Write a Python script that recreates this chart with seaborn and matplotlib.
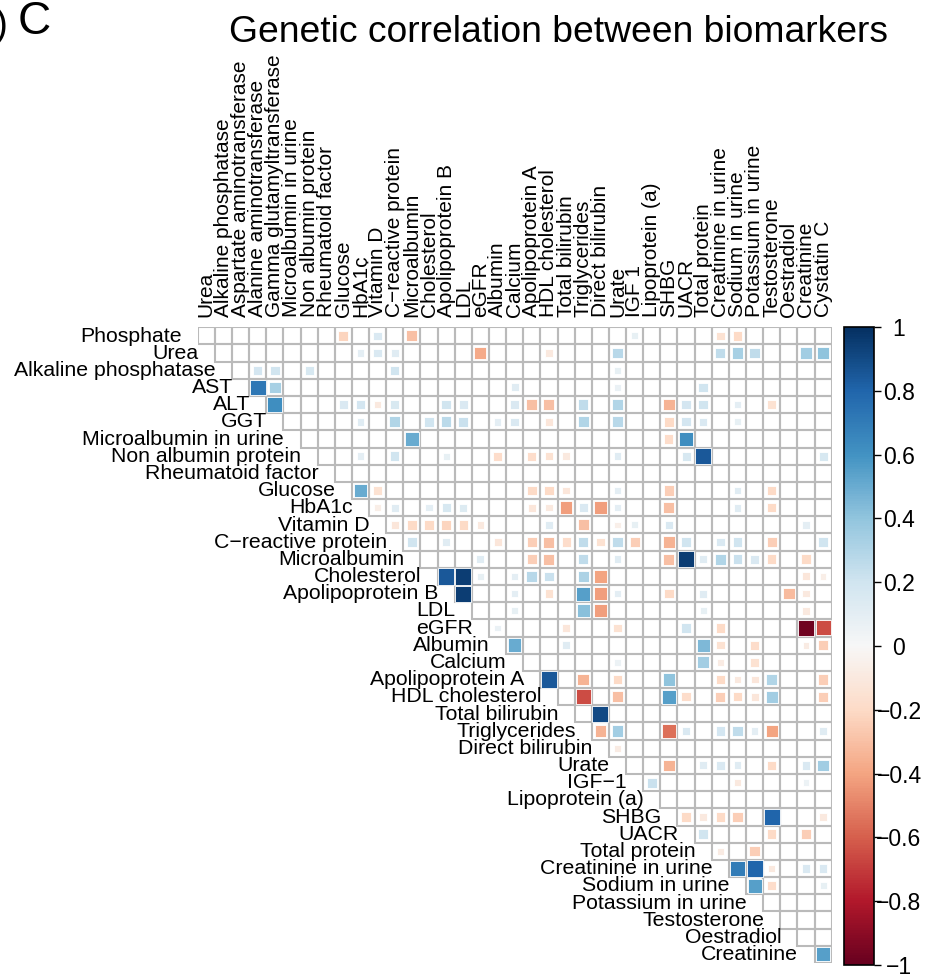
import numpy as np
import pandas as pd
import seaborn as sns
import matplotlib
matplotlib.use("Agg")
import matplotlib.pyplot as plt
from matplotlib.patches import Rectangle
from matplotlib.colors import Normalize, ListedColormap
from matplotlib.cm import ScalarMappable

sns.set_style("white")
plt.rcParams["font.family"] = ["Liberation Sans", "DejaVu Sans"]
plt.rcParams["text.color"] = "black"
plt.rcParams["ytick.color"] = "black"
plt.rcParams["ytick.labelcolor"] = "black"

row_labels = ["Phosphate", "Urea", "Alkaline phosphatase", "AST", "ALT", "GGT",
              "Microalbumin in urine", "Non albumin protein", "Rheumatoid factor",
              "Glucose", "HbA1c", "Vitamin D", "C\u2212reactive protein", "Microalbumin",
              "Cholesterol", "Apolipoprotein B", "LDL", "eGFR", "Albumin", "Calcium",
              "Apolipoprotein A", "HDL cholesterol", "Total bilirubin", "Triglycerides",
              "Direct bilirubin", "Urate", "IGF\u22121", "Lipoprotein (a)", "SHBG", "UACR",
              "Total protein", "Creatinine in urine", "Sodium in urine",
              "Potassium in urine", "Testosterone", "Oestradiol", "Creatinine"]

col_labels = ["Urea", "Alkaline phosphatase", "Aspartate aminotransferase",
              "Alanine aminotransferase", "Gamma glutamyltransferase",
              "Microalbumin in urine", "Non albumin protein", "Rheumatoid factor",
              "Glucose", "HbA1c", "Vitamin D", "C\u2212reactive protein", "Microalbumin",
              "Cholesterol", "Apolipoprotein B", "LDL", "eGFR", "Albumin", "Calcium",
              "Apolipoprotein A", "HDL cholesterol", "Total bilirubin", "Triglycerides",
              "Direct bilirubin", "Urate", "IGF 1", "Lipoprotein (a)", "SHBG", "UACR",
              "Total protein", "Creatinine in urine", "Sodium in urine",
              "Potassium in urine", "Testosterone", "Oestradiol", "Creatinine", "Cystatin C"]

# significant genetic correlations per row: (column index, rg)
r_phosphate = [(8, -0.22), (10, 0.15), (12, -0.30), (25, 0.08), (30, -0.15), (31, -0.20)]
r_urea = [(9, 0.10), (10, 0.15), (11, 0.12), (16, -0.38), (20, -0.10), (24, 0.28),
          (30, 0.25), (31, 0.33), (32, 0.25), (35, 0.35), (36, 0.40)]
r_alp = [(3, 0.18), (4, 0.20), (6, 0.17), (11, 0.20), (24, 0.08)]
r_ast = [(3, 0.72), (4, 0.33), (18, 0.12), (24, 0.07), (29, 0.20)]
r_alt = [(4, 0.62), (8, 0.15), (9, 0.18), (10, -0.10), (11, 0.16), (14, 0.20), (15, 0.15),
         (18, 0.15), (19, -0.30), (20, -0.30), (22, 0.25), (24, 0.30), (27, -0.35),
         (28, 0.18), (29, 0.20), (31, 0.10), (33, -0.15)]
r_ggt = [(9, 0.12), (11, 0.30), (13, 0.20), (14, 0.27), (15, 0.22), (17, 0.10), (18, 0.15),
         (20, -0.12), (22, 0.30), (24, 0.28), (27, -0.20), (28, 0.18), (29, 0.15), (31, 0.08)]
r_malb_urine = [(12, 0.50), (27, -0.18), (28, 0.62)]
r_nonalb = [(9, 0.10), (11, 0.20), (14, 0.08), (17, -0.18), (19, -0.18), (20, -0.15),
            (21, -0.10), (24, 0.12), (28, 0.17), (29, 0.85), (36, 0.17)]
r_rf = []
r_glucose = [(9, 0.50), (10, -0.15), (19, -0.20), (20, -0.20), (21, -0.12), (24, 0.10),
             (27, -0.25), (31, 0.12), (33, -0.20)]
r_hba1c = [(10, -0.07), (11, 0.12), (13, 0.10), (14, 0.17), (15, 0.14), (19, -0.12),
           (20, -0.10), (21, -0.42), (22, 0.15), (23, -0.42), (24, 0.10), (27, -0.30),
           (31, 0.12), (33, -0.20)]
r_vitd = [(11, -0.12), (12, -0.20), (13, -0.20), (14, -0.22), (15, -0.20), (16, -0.10),
          (20, 0.12), (22, -0.30), (24, -0.06), (25, 0.08), (27, 0.15), (35, 0.10)]
r_crp = [(12, 0.20), (14, 0.12), (17, -0.12), (19, -0.25), (20, -0.30), (21, -0.18),
         (22, 0.25), (23, -0.15), (24, 0.25), (25, -0.25), (27, -0.35), (28, 0.20),
         (30, 0.15), (31, 0.20), (33, -0.25), (36, 0.20)]
r_malb = [(16, 0.12), (19, -0.25), (20, -0.30), (22, 0.25), (24, 0.12), (27, -0.30),
          (28, 0.95), (29, 0.12), (30, 0.30), (31, 0.22), (32, 0.15), (33, -0.20), (35, -0.20)]
r_chol = [(14, 0.85), (15, 0.95), (16, 0.08), (18, 0.10), (19, 0.28), (20, 0.22),
          (22, 0.32), (23, -0.40), (35, -0.12), (36, -0.07)]
r_apob = [(15, 0.95), (18, 0.10), (20, -0.15), (22, 0.55), (23, -0.42), (24, 0.10),
          (27, -0.20), (29, 0.12), (34, -0.32), (35, -0.10)]
r_ldl = [(18, 0.08), (22, 0.42), (23, -0.42), (29, 0.08), (35, -0.10)]
r_egfr = [(17, 0.07), (21, -0.12), (24, -0.15), (28, 0.20), (30, -0.20), (35, -0.97), (36, -0.65)]
r_albumin = [(18, 0.50), (21, 0.12), (29, 0.45), (30, -0.15), (32, -0.18), (35, -0.08), (36, -0.25)]
r_calcium = [(24, 0.06), (29, 0.35), (30, -0.08), (32, -0.15)]
r_apoa = [(20, 0.85), (22, -0.35), (24, -0.20), (27, 0.40), (30, -0.20), (31, -0.10),
          (32, -0.12), (33, 0.30), (36, -0.25)]
r_hdl = [(22, -0.65), (24, -0.30), (27, 0.55), (28, -0.18), (30, -0.25), (31, -0.20),
         (32, -0.12), (33, 0.35), (36, -0.25)]
r_tbil = [(23, 0.90)]
r_tg = [(23, -0.35), (24, 0.35), (27, -0.55), (28, 0.15), (30, 0.18), (31, 0.25),
        (32, 0.10), (33, -0.40), (36, 0.12)]
r_dbil = [(24, -0.08)]
r_urate = [(27, -0.35), (29, 0.12), (30, 0.15), (31, 0.12), (33, -0.20), (35, 0.15), (36, 0.35)]
r_igf1 = [(26, 0.22), (31, -0.10), (35, 0.06)]
r_lpa = []
r_shbg = [(28, -0.20), (29, -0.10), (30, -0.20), (31, -0.25), (33, 0.80), (36, -0.10)]
r_uacr = [(29, 0.20), (33, -0.20), (35, -0.25)]
r_tprot = [(30, -0.08), (32, -0.25)]
r_creat_urine = [(31, 0.70), (32, 0.80), (33, -0.10), (35, 0.15), (36, 0.15)]
r_na_urine = [(32, 0.55), (33, -0.18), (36, 0.08)]
r_k_urine = []
r_testo = []
r_oestr = []
r_creat = [(36, 0.55)]

rows_data = [r_phosphate, r_urea, r_alp, r_ast, r_alt, r_ggt, r_malb_urine, r_nonalb, r_rf,
             r_glucose, r_hba1c, r_vitd, r_crp, r_malb, r_chol, r_apob, r_ldl, r_egfr,
             r_albumin, r_calcium, r_apoa, r_hdl, r_tbil, r_tg, r_dbil, r_urate, r_igf1,
             r_lpa, r_shbg, r_uacr, r_tprot, r_creat_urine, r_na_urine, r_k_urine,
             r_testo, r_oestr, r_creat]

n_r, n_c = len(row_labels), len(col_labels)
M = np.zeros((n_r, n_c))
for i, entries in enumerate(rows_data):
    for j, v in entries:
        M[i, j] = v
df = pd.DataFrame(M, index=row_labels, columns=col_labels)
mask = np.tril(np.ones((n_r, n_c), dtype=bool), k=-1)

W, H = 928, 974
fig = plt.figure(figsize=(W / 100, H / 100), dpi=100)
ax = fig.add_axes([197.7 / W, (H - 963.0) / H, 634.0 / W, 635.7 / H])

# white cells of the upper triangle
sns.heatmap(np.zeros_like(M), mask=mask, cmap=ListedColormap(["white"]), cbar=False,
            linewidths=0, xticklabels=False, yticklabels=False, ax=ax)

# grey grid around each displayed cell
for i in range(n_r):
    for j in range(i, n_c):
        ax.add_patch(Rectangle((j, i), 1, 1, facecolor="none", edgecolor="#BABABA", lw=1.5))

cmap = plt.get_cmap("RdBu")
norm = Normalize(-1, 1)
for i in range(n_r):
    for j in range(i, n_c):
        v = df.iat[i, j]
        if v == 0:
            continue
        s = min(0.94, 0.15 + 0.9 * np.sqrt(abs(v)))
        ax.add_patch(Rectangle((j + 0.5 - s / 2, i + 0.5 - s / 2), s, s,
                               facecolor=cmap(norm(v)), edgecolor="white", lw=0.6))

ax.set_xlim(0, n_c)
ax.set_ylim(n_r, 0)
ax.axis("off")

for i, lab in enumerate(row_labels):
    ax.text(i - 0.95, i + 0.83, lab, ha="right", va="baseline", fontsize=15.3, color="black")
for j, lab in enumerate(col_labels):
    ax.text(j + 0.5, -0.6, lab, rotation=90, ha="center", va="bottom", fontsize=15,
            color="black")

cax = fig.add_axes([844 / W, (H - 965.0) / H, 30 / W, 638.0 / H])
cb = fig.colorbar(ScalarMappable(norm=norm, cmap=cmap), cax=cax,
                  ticks=[-1, -0.8, -0.6, -0.4, -0.2, 0, 0.2, 0.4, 0.6, 0.8, 1])
cb.set_ticklabels(["\u22121", "\u22120.8", "\u22120.6", "\u22120.4", "\u22120.2", "0",
                   "0.2", "0.4", "0.6", "0.8", "1"])
cb.outline.set_linewidth(1.2)
cb.outline.set_edgecolor("black")
cax.tick_params(direction="out", length=5, width=1, labelsize=16.5, pad=13,
                colors="black")
for t in cax.get_yticklabels():
    t.set_horizontalalignment("center")

fig.text(559 / W, 1 - 32 / H, "Genetic correlation between biomarkers",
         ha="center", va="center", fontsize=26.8)
fig.text(34 / W, 1 - 22 / H, "C", ha="center", va="center", fontsize=33)
fig.text(8 / W, 1 - 26 / H, ")", ha="right", va="center", fontsize=28)

fig.savefig("out.png", dpi=100)
